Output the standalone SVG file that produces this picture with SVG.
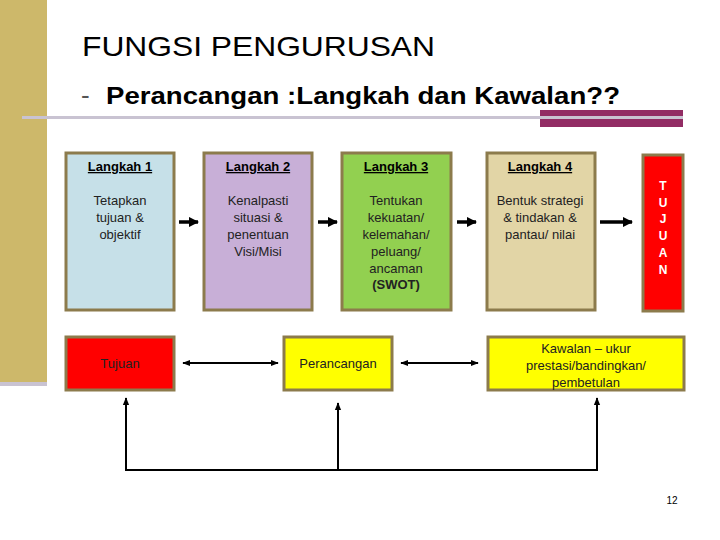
<svg xmlns="http://www.w3.org/2000/svg" width="720" height="540" viewBox="0 0 720 540">
<defs>
<style>
.box{stroke:#8C7B4C;stroke-width:3}
.t{font-family:"Liberation Sans",Arial,sans-serif;font-size:13px;text-anchor:middle;fill:#222}
.h{font-weight:bold;text-decoration:underline;fill:#000}
.tj{font-family:"Liberation Sans",Arial,sans-serif;font-size:12px;font-weight:bold;fill:#fff;text-anchor:middle}
.ln{stroke:#000;fill:none}
</style>
<marker id="ah" viewBox="0 0 10 10" refX="9" refY="5" markerWidth="3" markerHeight="3" orient="auto"><path d="M0,0L10,5L0,10z" fill="#000"/></marker>
<marker id="sh" viewBox="0 0 10 10" refX="9" refY="5" markerWidth="4" markerHeight="4" orient="auto-start-reverse"><path d="M0,1L10,5L0,9z" fill="#000"/></marker>
</defs>
<rect width="720" height="540" fill="#fff"/>
<g id="decor">
<rect x="0" y="0" width="47" height="382" fill="#CDB86A"/>
<rect x="0" y="382" width="47" height="4" fill="#C9C3D2"/>
<rect x="22" y="116" width="661" height="3" fill="#C9C3D2"/>
<rect x="540" y="110" width="143" height="17" fill="#922C64"/>
<rect x="540" y="116" width="143" height="3" fill="#C9C3D2"/>
</g>
<g id="title">
<text x="82" y="56" font-family="'Liberation Sans',Arial,sans-serif" font-size="28" textLength="353" lengthAdjust="spacingAndGlyphs" fill="#000">FUNGSI PENGURUSAN</text>
<text x="81" y="104" font-family="'Liberation Sans',Arial,sans-serif" font-size="26" fill="#555">-</text>
<text x="106" y="104" font-family="'Liberation Sans',Arial,sans-serif" font-size="24" font-weight="bold" textLength="514" lengthAdjust="spacingAndGlyphs" fill="#000">Perancangan :Langkah dan Kawalan??</text>
</g>
<g id="langkah1">
<rect class="box" x="66" y="153" width="108" height="157" fill="#C6E0E8"/>
<text class="t h" x="120" y="171">Langkah 1</text>
<text class="t" x="120" y="205">Tetapkan</text>
<text class="t" x="120" y="222">tujuan &amp;</text>
<text class="t" x="120" y="239">objektif</text>
</g>
<g id="langkah2">
<rect class="box" x="204" y="153" width="108" height="157" fill="#C8AFD7"/>
<text class="t h" x="258" y="171">Langkah 2</text>
<text class="t" x="258" y="205">Kenalpasti</text>
<text class="t" x="258" y="222">situasi &amp;</text>
<text class="t" x="258" y="239">penentuan</text>
<text class="t" x="258" y="256">Visi/Misi</text>
</g>
<g id="langkah3">
<rect class="box" x="342" y="153" width="109" height="157" fill="#92D050"/>
<text class="t h" x="396" y="171">Langkah 3</text>
<text class="t" x="396" y="205">Tentukan</text>
<text class="t" x="396" y="222">kekuatan/</text>
<text class="t" x="396" y="239">kelemahan/</text>
<text class="t" x="396" y="256">peluang/</text>
<text class="t" x="396" y="273">ancaman</text>
<text class="t" x="396" y="289" font-weight="bold" fill="#000">(SWOT)</text>
</g>
<g id="langkah4">
<rect class="box" x="487" y="153" width="108" height="157" fill="#E2D5A6"/>
<text class="t h" x="540" y="171">Langkah 4</text>
<text class="t" x="540" y="205">Bentuk strategi</text>
<text class="t" x="540" y="222">&amp; tindakan &amp;</text>
<text class="t" x="540" y="239">pantau/ nilai</text>
</g>
<g id="tujuan-v">
<rect class="box" x="643" y="155" width="40" height="156" fill="#FF0000"/>
<text class="tj" x="663" y="190">T</text>
<text class="tj" x="663" y="207">U</text>
<text class="tj" x="663" y="223">J</text>
<text class="tj" x="663" y="240">U</text>
<text class="tj" x="663" y="257">A</text>
<text class="tj" x="663" y="274">N</text>
</g>
<g id="tujuan">
<rect class="box" x="66" y="337" width="108" height="53" fill="#FF0000"/>
<text class="t" x="120" y="368" fill="#6B0000">Tujuan</text>
</g>
<g id="perancangan">
<rect class="box" x="284" y="337" width="108" height="53" fill="#FFFF00"/>
<text class="t" x="338" y="368" fill="#000">Perancangan</text>
</g>
<g id="kawalan">
<rect class="box" x="488" y="337" width="196" height="53" fill="#FFFF00"/>
<text class="t" x="586" y="353" fill="#000">Kawalan – ukur</text>
<text class="t" x="586" y="370" fill="#000">prestasi/bandingkan/</text>
<text class="t" x="586" y="387" fill="#000">pembetulan</text>
</g>
<g id="connectors">
<line class="ln" x1="179" y1="222" x2="198" y2="222" stroke-width="3.5" marker-end="url(#ah)"/>
<line class="ln" x1="318" y1="222" x2="337" y2="222" stroke-width="3.5" marker-end="url(#ah)"/>
<line class="ln" x1="457" y1="222" x2="476" y2="222" stroke-width="3.5" marker-end="url(#ah)"/>
<line class="ln" x1="600" y1="222" x2="632" y2="222" stroke-width="3.5" marker-end="url(#ah)"/>
<line class="ln" x1="183" y1="363" x2="278" y2="363" stroke-width="2" marker-start="url(#sh)" marker-end="url(#sh)"/>
<line class="ln" x1="401" y1="363" x2="478" y2="363" stroke-width="2" marker-start="url(#sh)" marker-end="url(#sh)"/>
<polyline class="ln" points="126,470 597,470" stroke-width="2"/>
<line class="ln" x1="126" y1="471" x2="126" y2="398" stroke-width="2" marker-end="url(#sh)"/>
<line class="ln" x1="338" y1="471" x2="338" y2="403" stroke-width="2" marker-end="url(#sh)"/>
<line class="ln" x1="597" y1="471" x2="597" y2="398" stroke-width="2" marker-end="url(#sh)"/>
</g>
<g id="page">
<text x="672" y="504" font-family="'Liberation Sans',Arial,sans-serif" font-size="10" text-anchor="middle" fill="#000">12</text>
</g>
</svg>
